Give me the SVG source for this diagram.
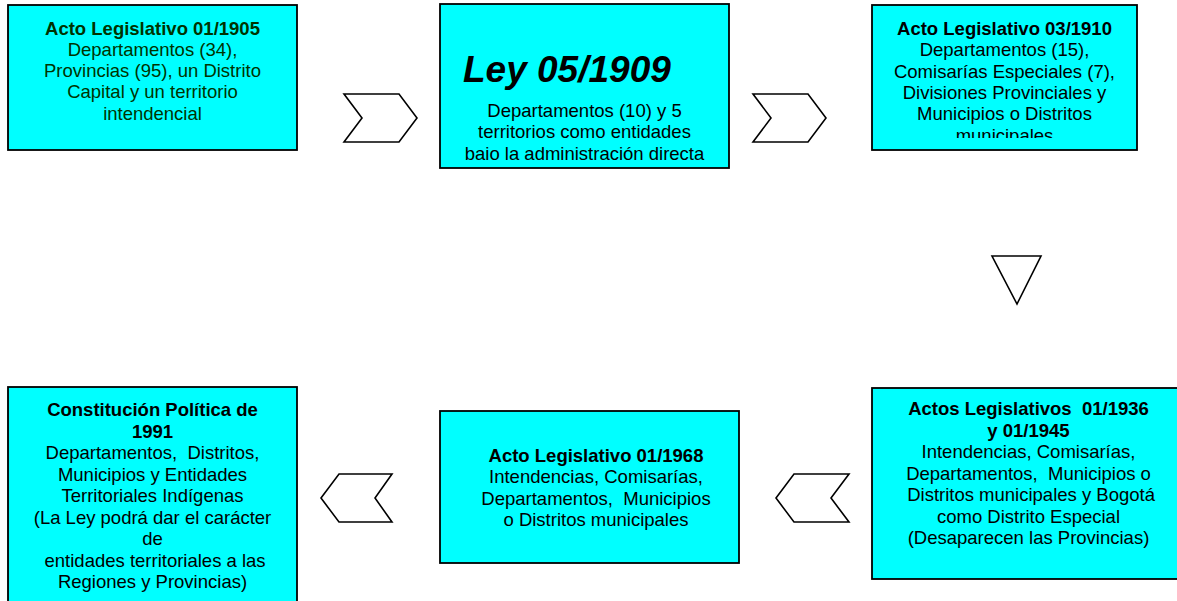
<svg xmlns="http://www.w3.org/2000/svg" width="1177" height="601" viewBox="0 0 1177 601">
<style>
.box{fill:#00FFFF;stroke:#000;stroke-width:1.8}
.t{font-family:"Liberation Sans",Arial,sans-serif;font-size:18.5px;text-anchor:middle;fill:#000;white-space:pre}
.b{font-weight:bold}
.g{fill:#003300}
.arr{fill:#fff;stroke:#000;stroke-width:1.6;stroke-linejoin:miter}
</style>
<defs>
<clipPath id="c3"><rect x="872" y="5" width="265" height="133"/></clipPath>
</defs>
<rect width="1177" height="601" fill="#fff"/>
<g id="n1">
<rect class="box" x="8" y="5" width="289" height="145"/>
<text class="t b g" x="152.5" y="35">Acto Legislativo 01/1905</text>
<text class="t g" x="152.5" y="56">Departamentos (34),</text>
<text class="t g" x="152.5" y="77">Provincias (95), un Distrito</text>
<text class="t g" x="152.5" y="98">Capital y un territorio</text>
<text class="t g" x="152.5" y="119.5">intendencial</text>
</g>
<g id="n2">
<rect class="box" x="440" y="4" width="289" height="164"/>
<text x="463" y="82" style="font-family:'Liberation Sans',Arial,sans-serif;font-size:37px;font-weight:bold;font-style:italic">Ley 05/1909</text>
<text class="t" x="584.5" y="116.5">Departamentos (10) y 5</text>
<text class="t" x="584.5" y="138">territorios como entidades</text>
<text class="t" x="584.5" y="159.5">baio la administración directa</text>
</g>
<g id="n3">
<rect class="box" x="872" y="5" width="265" height="145"/>
<g clip-path="url(#c3)">
<text class="t b" x="1004.5" y="35">Acto Legislativo 03/1910</text>
<text class="t" x="1004.5" y="56">Departamentos (15),</text>
<text class="t" x="1004.5" y="77.5">Comisarías Especiales (7),</text>
<text class="t" x="1004.5" y="98.5">Divisiones Provinciales y</text>
<text class="t" x="1004.5" y="120">Municipios o Distritos</text>
<text class="t" x="1004.5" y="141.5">municipales</text>
</g>
</g>
<g id="n4">
<rect class="box" x="872" y="388" width="320" height="191"/>
<text class="t b" x="1028.5" y="415">Actos Legislativos  01/1936</text>
<text class="t b" x="1028.5" y="436.5">y 01/1945</text>
<text class="t" x="1028.5" y="458">Intendencias, Comisarías,</text>
<text class="t" x="1028.5" y="479.5">Departamentos,  Municipios o</text>
<text class="t" x="1028.5" y="501"> Distritos municipales y Bogotá</text>
<text class="t" x="1028.5" y="522.5">como Distrito Especial</text>
<text class="t" x="1028.5" y="544">(Desaparecen las Provincias)</text>
</g>
<g id="n5">
<rect class="box" x="440" y="411" width="299" height="152"/>
<text class="t b" x="596" y="461.5">Acto Legislativo 01/1968</text>
<text class="t" x="596" y="483">Intendencias, Comisarías,</text>
<text class="t" x="596" y="504.5">Departamentos,  Municipios</text>
<text class="t" x="596" y="525.5">o Distritos municipales</text>
</g>
<g id="n6">
<rect class="box" x="8" y="387" width="289" height="225"/>
<text class="t b" x="152.5" y="416">Constitución Política de</text>
<text class="t b" x="152.5" y="437.5">1991</text>
<text class="t" x="152.5" y="459">Departamentos,  Distritos,</text>
<text class="t" x="152.5" y="480.5">Municipios y Entidades</text>
<text class="t" x="152.5" y="502">Territoriales Indígenas</text>
<text class="t" x="152.5" y="523.5">(La Ley podrá dar el carácter</text>
<text class="t" x="152.5" y="545">de</text>
<text class="t" x="152.5" y="566.5"> entidades territoriales a las</text>
<text class="t" x="152.5" y="588">Regiones y Provincias)</text>
</g>
<g id="connectors">
<polygon class="arr" points="344,94 399,94 417,118 399,142 344,142 362,118"/>
<polygon class="arr" points="753,94 808,94 826,118 808,142 753,142 771,118"/>
<polygon class="arr" points="992,256 1041,256 1017,304"/>
<polygon class="arr" points="794,474 849,474 831,498 849,522 794,522 776,498"/>
<polygon class="arr" points="339,474 392,474 375,498 392,522 339,522 321,498"/>
</g>
</svg>
